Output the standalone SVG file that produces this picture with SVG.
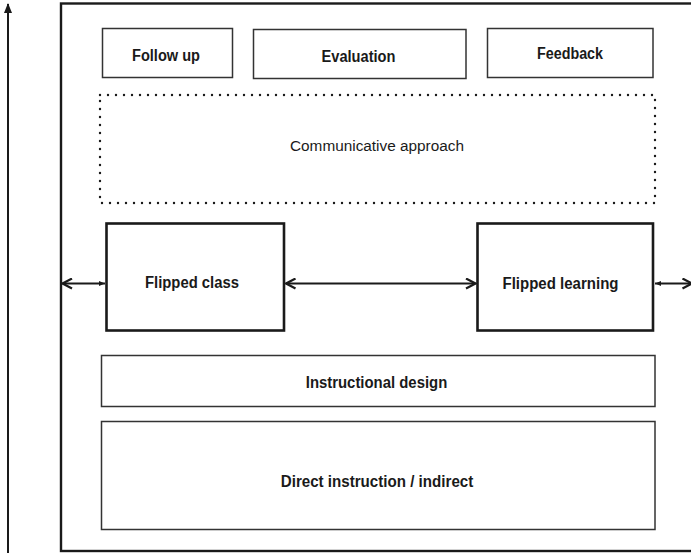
<svg xmlns="http://www.w3.org/2000/svg" width="691" height="555" viewBox="0 0 691 555">
  <style>
    .frame { fill: none; stroke: #1a1a1a; stroke-width: 2.4; }
    .box { fill: #fff; stroke: #333; stroke-width: 1.5; }
    .bold-box { fill: #fff; stroke: #1a1a1a; stroke-width: 2.6; }
    .dotted { fill: none; stroke: #1a1a1a; stroke-width: 2.4; stroke-dasharray: 0 8; stroke-linecap: round; }
    .lbl { font-family: "Liberation Sans", Arial, sans-serif; font-size: 16px; font-weight: bold; fill: #1a1a1a; text-anchor: middle; }
    .lbl-reg { font-family: "Liberation Sans", Arial, sans-serif; font-size: 15.5px; fill: #1a1a1a; text-anchor: middle; }
    .conn { stroke: #1a1a1a; stroke-width: 2.2; fill: none; }
  </style>
  <defs>
    <marker id="chev" viewBox="0 0 12 12" refX="11" refY="6" markerWidth="12" markerHeight="12" markerUnits="userSpaceOnUse" orient="auto-start-reverse">
      <path d="M1.5,1 L11,6 L1.5,11" fill="none" stroke="#1a1a1a" stroke-width="2.2"/>
    </marker>
    <marker id="tip" viewBox="0 0 6 6" refX="6" refY="3" markerWidth="6" markerHeight="6" markerUnits="userSpaceOnUse" orient="auto-start-reverse">
      <path d="M0,0.5 L6,3 L0,5.5 Z" fill="#1a1a1a"/>
    </marker>
    <marker id="solid" viewBox="0 0 10 10" refX="9" refY="5" markerWidth="10" markerHeight="10" markerUnits="userSpaceOnUse" orient="auto">
      <path d="M0,1 L10,5 L0,9 Z" fill="#1a1a1a"/>
    </marker>
  </defs>

  <!-- vertical axis on the left -->
  <g id="axis">
    <line x1="8" y1="553" x2="8" y2="4" stroke="#1a1a1a" stroke-width="2" marker-end="url(#solid)"/>
  </g>

  <!-- outer frame (runs off the right edge) -->
  <g id="frame">
    <rect class="frame" x="61" y="3.5" width="660" height="547.5"/>
  </g>

  <g id="follow-up">
    <rect class="box" x="102.5" y="28.5" width="130" height="49"/>
    <text class="lbl" x="166" y="61" textLength="68" lengthAdjust="spacingAndGlyphs">Follow up</text>
  </g>

  <g id="evaluation">
    <rect class="box" x="253.5" y="29.5" width="212.5" height="49"/>
    <text class="lbl" x="358.5" y="62" textLength="74" lengthAdjust="spacingAndGlyphs">Evaluation</text>
  </g>

  <g id="feedback">
    <rect class="box" x="487.5" y="28.5" width="165.5" height="49"/>
    <text class="lbl" x="570" y="59" textLength="66" lengthAdjust="spacingAndGlyphs">Feedback</text>
  </g>

  <g id="communicative-approach">
    <rect class="dotted" x="100" y="95" width="555" height="108"/>
    <text class="lbl-reg" x="377" y="151" textLength="174" lengthAdjust="spacingAndGlyphs">Communicative approach</text>
  </g>

  <g id="flipped-class">
    <rect class="bold-box" x="106.5" y="223.5" width="177.5" height="107"/>
    <text class="lbl" x="192" y="287.5" textLength="94" lengthAdjust="spacingAndGlyphs">Flipped class</text>
  </g>

  <g id="flipped-learning">
    <rect class="bold-box" x="477.5" y="223.5" width="175.5" height="107"/>
    <text class="lbl" x="560.5" y="288.5" textLength="116" lengthAdjust="spacingAndGlyphs">Flipped learning</text>
  </g>

  <g id="instructional-design">
    <rect class="box" x="101.5" y="355.5" width="553.5" height="51"/>
    <text class="lbl" x="376.5" y="387.5" textLength="141.5" lengthAdjust="spacingAndGlyphs">Instructional design</text>
  </g>

  <g id="direct-instruction">
    <rect class="box" x="101.5" y="421.5" width="553.5" height="108"/>
    <text class="lbl" x="377" y="486.5" textLength="192.5" lengthAdjust="spacingAndGlyphs">Direct instruction / indirect</text>
  </g>

  <!-- connectors -->
  <g id="connectors">
    <line class="conn" x1="62.5" y1="283.5" x2="105" y2="283.5" marker-start="url(#chev)" marker-end="url(#tip)"/>
    <line class="conn" x1="286" y1="283.5" x2="475.5" y2="283.5" marker-start="url(#chev)" marker-end="url(#chev)"/>
    <line class="conn" x1="655" y1="283.5" x2="692" y2="283.5" marker-start="url(#tip)" marker-end="url(#chev)"/>
  </g>
</svg>
